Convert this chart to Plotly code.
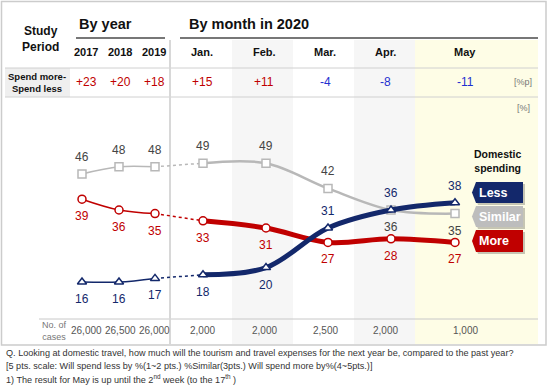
import plotly.graph_objects as go

# ---------------- data ----------------
periods = ["2017", "2018", "2019", "Jan.", "Feb.", "Mar.", "Apr.", "May"]
similar = [46, 48, 48, 49, 49, 42, 36, 35]
more = [39, 36, 35, 33, 31, 27, 28, 27]
less = [16, 16, 17, 18, 20, 31, 36, 38]
diff_more_less = [23, 20, 18, 15, 11, -4, -8, -11]
cases = ["26,000", "26,500", "26,000", "2,000", "2,000", "2,500", "2,000", "1,000"]
series_names = ["Less", "Similar", "More"]

# ---------------- layout constants ----------------
W, H = 550, 388
V0, S = 339.6, 3.6            # pixel row of value 0, pixels per %
PX = [82, 119, 155, 203, 266, 328, 391, 455]   # point column centres
TX = [86, 120, 154, 202, 264, 325, 385, 465]   # table column centres
FONT = "Liberation Sans, Arial, sans-serif"
RED = "#c00000"
NAVY = "#13286b"
GRAY = "#b8b8b8"
BLUE = "#1f2fd0"


def Y(py):
    return 1 - py / H


fig = go.Figure()


def add_series(vals, color, symbol, month_width, label_pos, label_color):
    # dotted connector 2019 -> Jan
    fig.add_trace(go.Scatter(x=PX[2:4], y=vals[2:4], mode="lines",
                             line=dict(color=color, width=1.5, dash="dot"),
                             hoverinfo="skip"))
    marker = dict(symbol=symbol, size=8, color="white",
                  line=dict(color=color, width=1.5))
    fig.add_trace(go.Scatter(x=PX[:3], y=vals[:3], mode="lines+markers",
                             line=dict(color=color, width=1.5, shape="spline"),
                             marker=marker, hoverinfo="skip"))
    fig.add_trace(go.Scatter(x=PX[3:], y=vals[3:], mode="lines+markers",
                             line=dict(color=color, width=month_width, shape="spline", smoothing=1.0),
                             marker=marker, hoverinfo="skip"))
    for i, v in enumerate(vals):
        fig.add_annotation(x=PX[i], y=v, xref="x", yref="y", text=str(v),
                           showarrow=False, yshift=17 if label_pos[i] == "a" else -17,
                           font=dict(family=FONT, size=12, color=label_color))


add_series(similar, GRAY, "square", 2.5, ["a", "a", "a", "a", "a", "a", "b", "b"], "#444444")
add_series(more, RED, "circle", 5, ["b"] * 8, RED)
add_series(less, NAVY, "triangle-up", 5, ["b", "b", "b", "b", "b", "a", "a", "a"], NAVY)

shapes = []


def rect(x0, y0, x1, y1, fill, line=None, lw=0, layer="below"):
    shapes.append(dict(type="rect", xref="x", yref="paper", x0=x0, x1=x1, y0=Y(y1), y1=Y(y0),
                       fillcolor=fill, line=dict(color=line or fill, width=lw), layer=layer))


def hline(x0, x1, y, color, w):
    shapes.append(dict(type="line", xref="x", yref="paper", x0=x0, x1=x1, y0=Y(y), y1=Y(y),
                       line=dict(color=color, width=w), layer="below"))


def vline(x, y0, y1, color, w):
    shapes.append(dict(type="line", xref="x", yref="paper", x0=x, x1=x, y0=Y(y0), y1=Y(y1),
                       line=dict(color=color, width=w), layer="below"))


# column shading
rect(232, 40, 293, 344, "#f6f6f6")
rect(354, 40, 415, 344, "#f6f6f6")
rect(415, 40, 538, 344, "#fefde6")
# spend cell
rect(5, 68, 70, 97, "#efefef")
hline(5, 538, 68, "#d0d0d0", 1)
hline(5, 538, 97, "#d0d0d0", 1)
hline(39, 538, 319, "#c8c8c8", 1)
hline(76, 165, 38, "#777777", 2)
hline(180, 538, 38, "#777777", 2)
vline(170, 40, 344, "#d8d8d8", 2)
# outer border
shapes.append(dict(type="rect", xref="x", yref="paper", x0=1.5, x1=546, y0=Y(345), y1=Y(1.5),
                   line=dict(color="#cccccc", width=1.5), fillcolor="rgba(0,0,0,0)", layer="below"))

# legend flags
flag_colors = {"Less": NAVY, "Similar": "#bdbdbd", "More": RED}
flag_rows = {"Less": (182, 203), "Similar": (206, 227), "More": (230, 252)}


def flag_path(x0, x1, y0, y1):
    ym = (y0 + y1) / 2
    return (f"M {x0 + 4},{Y(y0)} L {x1},{Y(y0)} L {x1},{Y(y1)} L {x0 + 4},{Y(y1)} "
            f"L {x0},{Y(ym)} Z")


for name in series_names:
    y0, y1 = flag_rows[name]
    shapes.append(dict(type="path", xref="x", yref="paper", path=flag_path(474, 525, y0 + 2, y1 + 2),
                       fillcolor="rgba(0,0,0,0.22)", line=dict(width=0), layer="above"))
    shapes.append(dict(type="path", xref="x", yref="paper", path=flag_path(472, 523, y0, y1),
                       fillcolor=flag_colors[name], line=dict(width=0), layer="above"))
    fig.add_annotation(x=477, y=Y((y0 + y1) / 2), xref="x", yref="paper", text=f"<b>{name}</b>",
                       showarrow=False, xanchor="left", yanchor="middle",
                       font=dict(family=FONT, size=12.5, color="white"))


def txt(x, y, s, size, color="#111111", xanchor="center", bold=False):
    fig.add_annotation(x=x, y=Y(y), xref="x", yref="paper", text=f"<b>{s}</b>" if bold else s,
                       showarrow=False, xanchor=xanchor, yanchor="middle",
                       font=dict(family=FONT, size=size, color=color))


txt(497, 161, "Domestic<br>spending", 10.5, bold=True)

# header
txt(40, 39, "Study<br>Period", 12, bold=True)
txt(77, 24, "By year", 14.5, xanchor="left", bold=True)
txt(187, 24, "By month in 2020", 14.5, xanchor="left", bold=True)
for i, p in enumerate(periods):
    txt(TX[i], 52, p, 11, bold=True)
    d = diff_more_less[i]
    txt(TX[i], 82, f"+{d}" if d > 0 else f"-{abs(d)}", 12, RED if d > 0 else BLUE)
    txt(TX[i], 330, cases[i], 10, "#555555")
txt(37, 82, "Spend more-<br>Spend less", 9.5, bold=True)
txt(523, 82, "[%p]", 9, "#777777")
txt(523, 108, "[%]", 9, "#777777")
txt(54, 331, "No. of<br>cases", 9, "#777777")

# notes
notes = [
    "Q. Looking at domestic travel, how much will the tourism and travel expenses for the next year be, compared to the past year?",
    "[5 pts. scale: Will spend less by %(1~2 pts.) %Similar(3pts.) Will spend more by%(4~5pts.)]",
    "1) The result for May is up until the 2<sup>nd</sup> week (to the 17<sup>th</sup> )",
]
for j, n in enumerate(notes):
    txt(4, 353 + j * 13, n, 9.1, "#333333", xanchor="left")

fig.update_layout(
    width=W, height=H, margin=dict(l=0, r=0, t=0, b=0),
    paper_bgcolor="white", plot_bgcolor="rgba(0,0,0,0)",
    showlegend=False, shapes=shapes,
    xaxis=dict(range=[0, W], visible=False, fixedrange=True),
    yaxis=dict(range=[(V0 - H) / S, V0 / S], visible=False, fixedrange=True),
)
fig.write_html("out.html", config={"displayModeBar": False},
               post_script="document.body.style.margin='0';document.body.style.overflow='hidden';")
